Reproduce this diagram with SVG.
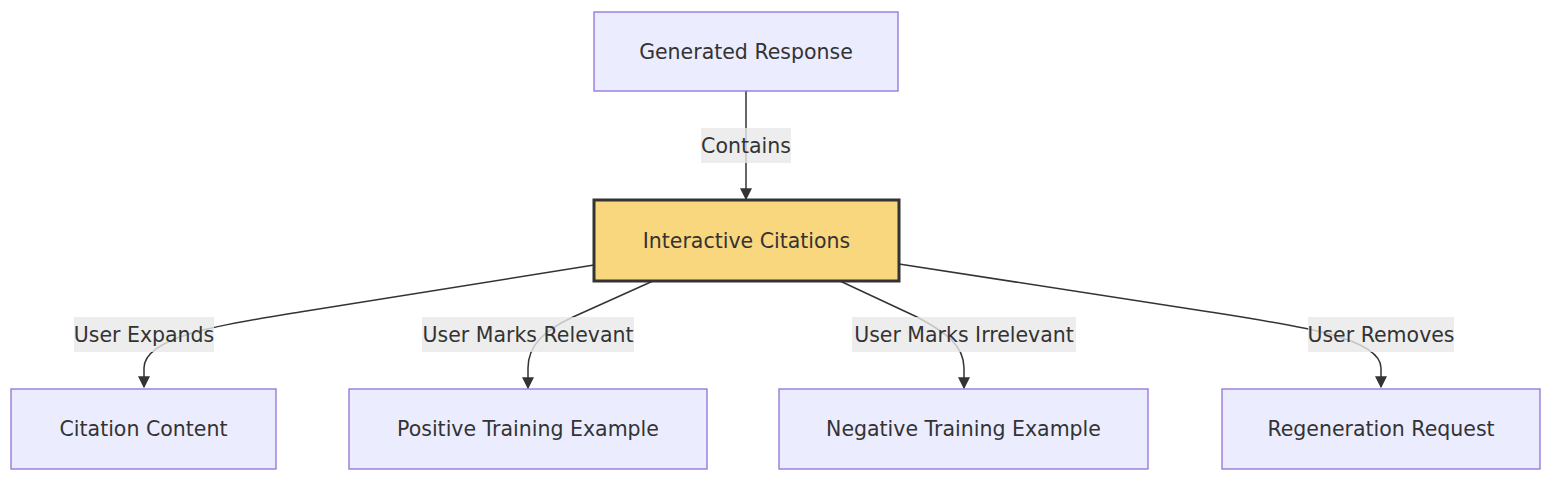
<svg xmlns="http://www.w3.org/2000/svg" width="1568" height="486" viewBox="0 0 1568 486">
<style>
.node rect{fill:#ECECFF;stroke:#9370DB;stroke-width:1.3}
.node.hl rect{fill:#F9D77E;stroke:#333333;stroke-width:3}
text{font-family:"DejaVu Sans","Liberation Sans",sans-serif;font-size:20.5px;fill:#333333;text-anchor:middle;dominant-baseline:central}
.edge{fill:none;stroke:#333333;stroke-width:1.5}
.lbl rect{fill:#E8E8E8;fill-opacity:0.8}
</style>
<defs>
<marker id="arr" viewBox="0 0 10 10" refX="9" refY="5" markerUnits="userSpaceOnUse" markerWidth="12" markerHeight="12" orient="auto">
<path d="M0,0 L10,5 L0,10 z" fill="#333333"/>
</marker>
</defs>
<rect width="1568" height="486" fill="#ffffff"/>
<g id="connectors">
<path class="edge" d="M746,91 L746,199" marker-end="url(#arr)"/>
<path class="edge" d="M594,265 L300,312 C225,324 144,336 144,368 L144,387" marker-end="url(#arr)"/>
<path class="edge" d="M653,281 L573,317 C545,330 528,345 528,368 L528,388" marker-end="url(#arr)"/>
<path class="edge" d="M840,281 L917,317 C945,332 964,345 964,368 L964,388" marker-end="url(#arr)"/>
<path class="edge" d="M899,264 L1210,312 C1300,326 1381,338 1381,368 L1381,387" marker-end="url(#arr)"/>
<g class="lbl"><rect x="701" y="128" width="90" height="35"/><text x="746" y="145.5">Contains</text></g>
<g class="lbl"><rect x="74" y="317" width="140" height="35"/><text x="144" y="334.5">User Expands</text></g>
<g class="lbl"><rect x="422" y="317" width="212" height="35"/><text x="528" y="334.5">User Marks Relevant</text></g>
<g class="lbl"><rect x="852" y="317" width="224" height="35"/><text x="964" y="334.5">User Marks Irrelevant</text></g>
<g class="lbl"><rect x="1308" y="317" width="146" height="35"/><text x="1381" y="334.5">User Removes</text></g>
</g>
<g id="generated-response" class="node"><rect x="594" y="12" width="304" height="79"/><text x="746" y="51.5">Generated Response</text></g>
<g id="interactive-citations" class="node hl"><rect x="594" y="200" width="305" height="81"/><text x="746.5" y="240.5">Interactive Citations</text></g>
<g id="citation-content" class="node"><rect x="11" y="389" width="265" height="80"/><text x="143.5" y="429">Citation Content</text></g>
<g id="positive-training-example" class="node"><rect x="349" y="389" width="358" height="80"/><text x="528" y="429">Positive Training Example</text></g>
<g id="negative-training-example" class="node"><rect x="779" y="389" width="369" height="80"/><text x="963.5" y="429">Negative Training Example</text></g>
<g id="regeneration-request" class="node"><rect x="1222" y="389" width="318" height="80"/><text x="1381" y="429">Regeneration Request</text></g>
</svg>
